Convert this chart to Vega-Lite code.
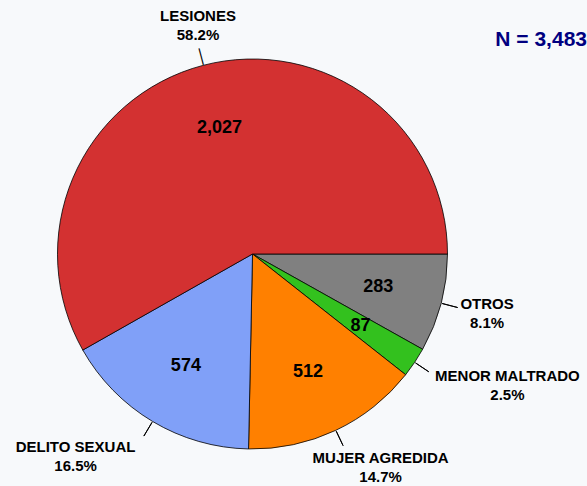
{
  "$schema": "https://vega.github.io/schema/vega-lite/v6.json",
  "width": 587,
  "height": 486,
  "autosize": {"type": "fit", "contains": "padding"},
  "padding": {"left": 0, "top": 20, "right": 0, "bottom": 0},
  "background": "#F7F9FB",
  "title": {
    "text": "N = 3,483",
    "anchor": "end",
    "frame": "group",
    "font": "Liberation Sans",
    "fontSize": 21,
    "fontWeight": "bold",
    "color": "#000080",
    "dx": 82,
    "offset": -41
  },
  "data": {
    "values": [
      {"nombre": "OTROS", "valor": 283, "pct": 8.1, "orden": 1},
      {"nombre": "MENOR MALTRADO", "valor": 87, "pct": 2.5, "orden": 2},
      {"nombre": "MUJER AGREDIDA", "valor": 512, "pct": 14.7, "orden": 3},
      {"nombre": "DELITO SEXUAL", "valor": 574, "pct": 16.5, "orden": 4},
      {"nombre": "LESIONES", "valor": 2027, "pct": 58.2, "orden": 5}
    ]
  },
  "encoding": {
    "theta": {"field": "valor", "type": "quantitative", "stack": true, "scale": {"range": [1.5708, 7.854]}},
    "order": {"field": "orden", "type": "quantitative"},
    "detail": {"field": "nombre"}
  },
  "layer": [
    {
      "mark": {"type": "arc", "radius": 195, "stroke": "#000000", "strokeWidth": 0.8},
      "encoding": {
        "color": {
          "field": "nombre",
          "type": "nominal",
          "scale": {
            "domain": ["OTROS", "MENOR MALTRADO", "MUJER AGREDIDA", "DELITO SEXUAL", "LESIONES"],
            "range": ["#808080", "#33C11E", "#FF8000", "#80A0F8", "#D33131"]
          },
          "legend": null
        }
      }
    },
    {
      "mark": {
        "type": "arc",
        "radius": 212,
        "radius2": 196,
        "padAngle": 3,
        "stroke": "#000000",
        "strokeWidth": 1,
        "fill": "transparent",
        "strokeOpacity": {"expr": "datum.nombre == 'LESIONES' ? 0 : 1"}
      }
    },
    {
      "mark": {
        "type": "text",
        "radius": 204,
        "font": "Liberation Sans",
        "fontSize": 17,
        "color": "#000000",
        "align": "center",
        "baseline": "middle",
        "text": "\u2014",
        "angle": {"expr": "180 * (datum.valor_start + datum.valor_end) / 3483"},
        "opacity": {"expr": "datum.nombre == 'LESIONES' ? 1 : 0"}
      }
    },
    {
      "mark": {"type": "text", "radius": 130, "font": "Liberation Sans", "fontSize": 18, "fontWeight": "bold", "color": "#000000"},
      "encoding": {"text": {"field": "valor", "type": "quantitative", "format": ","}}
    },
    {
      "mark": {
        "type": "text",
        "radius": 214,
        "font": "Liberation Sans",
        "fontSize": 15,
        "fontWeight": "bold",
        "color": "#000000",
        "lineHeight": 19,
        "align": "center",
        "baseline": "middle",
        "text": {"expr": "[datum.nombre, format(datum.pct, '.1f') + '%']"},
        "dx": {"expr": "5 * length(datum.nombre) * (cos(PI * (datum.valor_start + datum.valor_end) / 3483) < 0 ? -1 : 1) * min(1.1, 6 * max(0, abs(cos(PI * (datum.valor_start + datum.valor_end) / 3483)) - 0.34))"},
        "dy": {"expr": "22 * sin(PI * (datum.valor_start + datum.valor_end) / 3483) - 9.5"}
      }
    }
  ]
}
